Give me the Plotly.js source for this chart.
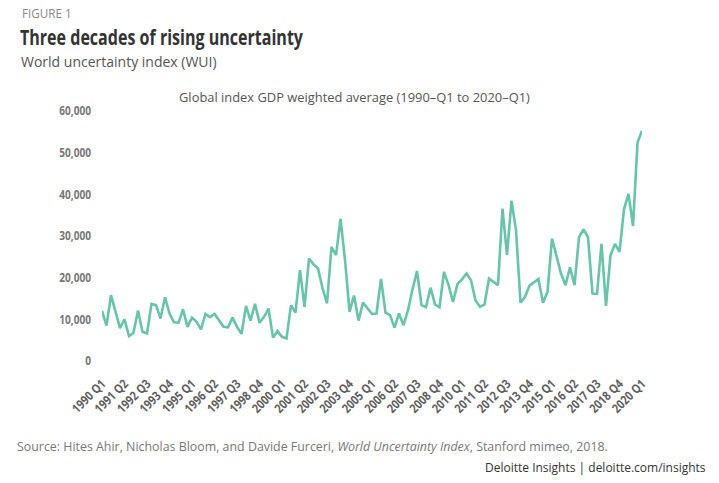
<!DOCTYPE html>
<html>
<head>
<meta charset="utf-8">
<script src="https://cdn.plot.ly/plotly-3.0.1.min.js"></script>
<style>html,body{margin:0;padding:0;background:#fff;}#chart{width:719px;height:483px;}</style>
</head>
<body>
<div id="chart"></div>
<script>
// ---- data ----
var quarters = [];
for (var yr = 1990; yr <= 2020; yr++) {
  for (var q = 1; q <= 4; q++) {
    if (yr === 2020 && q > 1) break;
    quarters.push(yr + " Q" + q);
  }
}
var wui = [
  12000, 8500, 15800, 11500, 7900, 10000, 6000, 6800, 12100, 7000,
  6600, 13700, 13400, 10200, 15300, 11400, 9300, 9200, 12400, 8200,
  10400, 9400, 7600, 11300, 10500, 11300, 9800, 8200, 8100, 10400,
  8200, 6500, 13200, 9700, 13700, 9200, 10600, 12600, 5600, 7200,
  5800, 5400, 13400, 11600, 21800, 13000, 24600, 23200, 22200, 17500,
  13800, 27400, 25400, 34100, 24300, 11800, 15700, 9700, 14000, 12600,
  11300, 11400, 19700, 11600, 11000, 8000, 11400, 8600, 12200, 17200,
  21600, 13400, 12900, 17600, 13600, 12900, 21400, 18200, 14200, 18500,
  19600, 21000, 19400, 14500, 13000, 13600, 19800, 19000, 18200, 36600,
  25400, 38500, 31400, 14000, 15400, 18100, 19000, 19700, 14000, 16600,
  29400, 25000, 21000, 18200, 22500, 18200, 29700, 31600, 29700, 16200,
  16100, 28100, 13200, 25400, 28100, 26200, 36400, 40100, 32400, 52400,
  55300
];
var tickLabels = [
  "1990 Q1", "1991 Q2", "1992 Q3", "1993 Q4", "1995 Q1", "1996 Q2", "1997 Q3",
  "1998 Q4", "2000 Q1", "2001 Q2", "2002 Q3", "2003 Q4", "2005 Q1", "2006 Q2",
  "2007 Q3", "2008 Q4", "2010 Q1", "2011 Q2", "2012 Q3", "2013 Q4", "2015 Q1",
  "2016 Q2", "2017 Q3", "2018 Q4", "2020 Q1"
];
var yTicks = [0, 10000, 20000, 30000, 40000, 50000, 60000];

// ---- layout helpers ----
var W = 719, H = 483;
var L = 102, R = 642, T = 111, B = 361;
function px(x) { return (x - L) / (R - L); }
function py(y) { return (B - y) / (B - T); }

var openSans = "Open Sans, sans-serif";

var trace = {
  type: "scatter",
  mode: "lines",
  x: quarters,
  y: wui,
  line: { color: "#66c5a8", width: 2.6 },
  hoverinfo: "x+y"
};

var layout = {
  width: W, height: H,
  paper_bgcolor: "#fff", plot_bgcolor: "#fff",
  margin: { l: L, r: W - R, t: T, b: H - B, pad: 0 },
  showlegend: false,
  title: {
    text: "Three decades of rising uncertainty",
    font: { family: openSans, size: 21, color: "#333", weight: 700 },
    xref: "container", yref: "container",
    x: 20 / W, xanchor: "left",
    y: 1 - 38 / H, yanchor: "middle"
  },
  xaxis: {
    type: "category",
    range: [0, 120],
    tickmode: "array",
    tickvals: tickLabels,
    ticktext: tickLabels,
    tickangle: -45,
    tickfont: { family: openSans, size: 12.5, color: "#5e5e5e", weight: 700 },
    showgrid: false, zeroline: false, showline: false,
    ticks: "", ticklabelstandoff: 12,
    fixedrange: true
  },
  yaxis: {
    range: [0, 60000],
    tickmode: "array",
    tickvals: yTicks,
    tickformat: ",",
    tickfont: { family: openSans, size: 12, color: "#777", weight: 700 },
    showgrid: false, zeroline: false, showline: false,
    ticks: "", ticklabelstandoff: 10,
    fixedrange: true
  },
  annotations: [
    { text: "FIGURE 1", xref: "paper", yref: "paper", x: px(20), y: py(13),
      xanchor: "left", yanchor: "middle", showarrow: false,
      font: { family: openSans, size: 11.7, color: "#888" } },
    { text: "World uncertainty index (WUI)", xref: "paper", yref: "paper", x: px(19), y: py(61),
      xanchor: "left", yanchor: "middle", showarrow: false,
      font: { family: openSans, size: 14, color: "#555" } },
    { text: "Global index GDP weighted average (1990–Q1 to 2020–Q1)", xref: "paper", yref: "paper",
      x: px(354), y: py(97), xanchor: "center", yanchor: "middle", showarrow: false,
      font: { family: openSans, size: 12.9, color: "#555" } },
    { text: "Source: Hites Ahir, Nicholas Bloom, and Davide Furceri, <i>World Uncertainty Index</i>, Stanford mimeo, 2018.",
      xref: "paper", yref: "paper", x: px(15), y: py(447), xanchor: "left", yanchor: "middle", showarrow: false,
      font: { family: openSans, size: 12.4, color: "#777" } },
    { text: "Deloitte Insights | deloitte.com/insights", xref: "paper", yref: "paper",
      x: px(708), y: py(467), xanchor: "right", yanchor: "middle", showarrow: false,
      font: { family: openSans, size: 12, color: "#333" } }
  ]
};

// condense bold texts to mimic the condensed typeface of the original
function condense(sel, factor, fixed) {
  var nodes = document.querySelectorAll(sel);
  nodes.forEach(function (n) {
    var len = n.getComputedTextLength();
    if (!len) return;
    n.setAttribute("textLength", fixed ? fixed : (len * factor).toFixed(2));
    n.setAttribute("lengthAdjust", "spacingAndGlyphs");
  });
}

Plotly.newPlot("chart", [trace], layout, { displayModeBar: false, staticPlot: true }).then(function () {
  condense(".gtitle", 1, 283);
  condense(".xtick text", 0.84);
  condense(".ytick text", 0.84);
});
</script>
</body>
</html>
